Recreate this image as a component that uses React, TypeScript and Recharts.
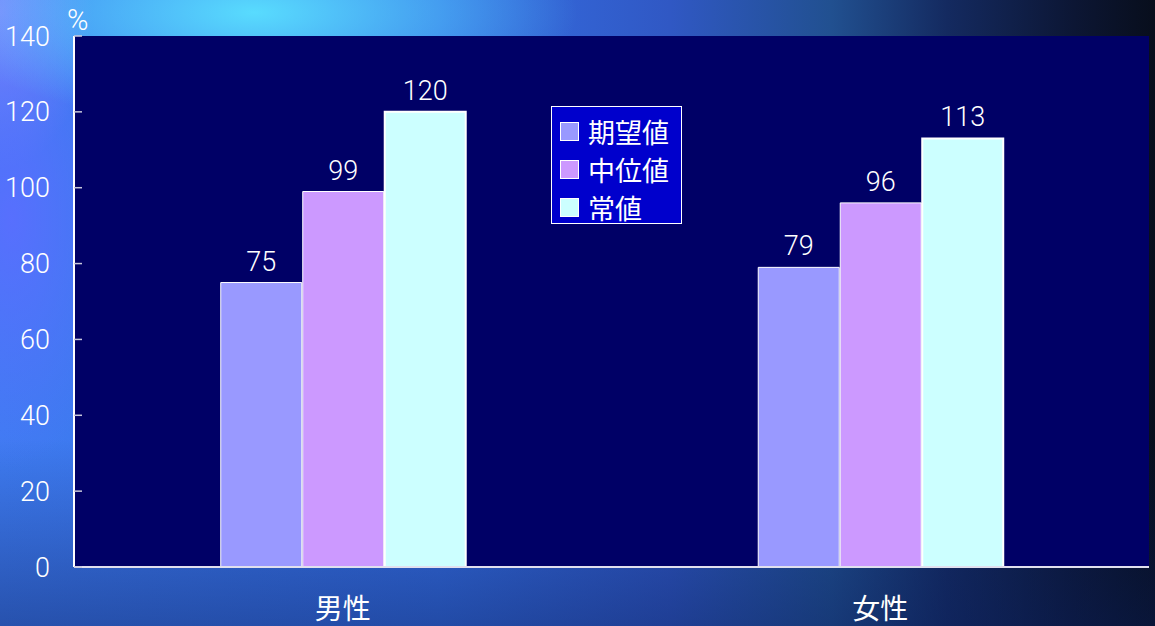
import React from 'react'
import { BarChart, Bar, XAxis, YAxis, CartesianGrid, Legend, LabelList } from 'recharts'

const categories = ['男性', '女性']
const expected = [75, 79]
const median = [99, 96]
const normal = [120, 113]
const yTicks = [0, 20, 40, 60, 80, 100, 120, 140]
const seriesKeys = ['期望値', '中位値', '常値']

const chartData = categories.map((name, i) => ({
    name,
    期望値: expected[i],
    中位値: median[i],
    常値: normal[i],
}))

const font = "Roboto, 'Noto Sans CJK JP', sans-serif"

const seriesColors: Record<string, string> = {
    期望値: '#9999FF',
    中位値: '#CC99FF',
    常値: '#CCFFFF',
}

// legend drawn as the boxed panel in the middle of the plot
function LegendBox({ payload }: any) {
    const items = [...(payload || [])].sort(
        (a: any, b: any) => seriesKeys.indexOf(a.value) - seriesKeys.indexOf(b.value)
    )
    return (
        <div
            style={{
                width: 131,
                height: 118,
                background: '#0000CC',
                border: '1px solid #ffffff',
                boxSizing: 'border-box',
                padding: '5px 0 0 8px',
                fontFamily: font,
            }}
        >
            {items.map((p: any) => (
                <div key={p.value} style={{ display: 'flex', alignItems: 'center', height: 38 }}>
                    <span
                        style={{
                            width: 17,
                            height: 17,
                            background: seriesColors[p.value],
                            border: '1px solid #ffffff',
                            display: 'inline-block',
                            marginRight: 9,
                        }}
                    />
                    <span style={{ color: '#ffffff', fontSize: 27 }}>{p.value}</span>
                </div>
            ))}
        </div>
    )
}

function PercentLabel({ viewBox }: any) {
    return (
        <text x={viewBox.x + viewBox.width - 7} y={viewBox.y - 6} fill="#ffffff" fontSize={29} fontFamily={font} fontWeight={300}>
            %
        </text>
    )
}

export default function App() {
    return (
        <div
            style={{
                position: 'absolute',
                left: 0,
                top: 0,
                width: 1155,
                height: 626,
                background:
                    'radial-gradient(ellipse 28% 18% at 22% 2%, rgba(90,225,255,0.95) 0%, rgba(90,225,255,0) 100%),' +
                    'radial-gradient(ellipse 10% 40% at 1% 35%, rgba(90,110,255,0.9) 0%, rgba(90,110,255,0) 100%),' +
                    'radial-gradient(ellipse 8% 25% at 0% 2%, rgba(150,140,255,0.8) 0%, rgba(150,140,255,0) 100%),' +
                    'linear-gradient(to bottom, rgba(0,0,0,0) 70%, rgba(10,30,90,0.45) 100%),' +
                    'linear-gradient(to right, #3f7cf2 0%, #3670e6 38%, #3058c4 58%, #215090 72%, #142a60 82%, #0c1634 93%, #080e1c 100%)',
                overflow: 'hidden',
            }}
        >
            <BarChart
                width={1155}
                height={626}
                data={chartData}
                margin={{ top: 36, right: 6, left: 0, bottom: 0 }}
                barCategoryGap="27.3%"
                barGap={1}
            >
                <CartesianGrid horizontal={false} vertical={false} fill="#000066" />
                <XAxis
                    xAxisId="bound"
                    type="number"
                    domain={[0, 2]}
                    ticks={[1]}
                    height={0}
                    tick={false}
                    axisLine={false}
                    tickSize={-10}
                    tickLine={{ stroke: '#d8d8e8', strokeWidth: 1.5 }}
                />
                <XAxis
                    dataKey="name"
                    height={59}
                    axisLine={{ stroke: '#e0e0ee', strokeWidth: 2 }}
                    tickLine={false}
                    tickMargin={26}
                    tick={{ fill: '#ffffff', fontSize: 28, fontFamily: font }}
                />
                <XAxis xAxisId="top" orientation="top" height={0} tick={false} tickLine={false} axisLine={{ stroke: '#9a9ab0', strokeWidth: 2 }} />
                <YAxis
                    domain={[0, 140]}
                    ticks={yTicks}
                    width={74}
                    interval={0}
                    axisLine={{ stroke: '#ffffff', strokeWidth: 2 }}
                    tickSize={-8}
                    tickMargin={32}
                    tickLine={{ stroke: '#c8c8dc', strokeWidth: 1.5 }}
                    tick={{ fill: '#ffffff', fontSize: 27, fontFamily: font, fontWeight: 300 }}
                    label={<PercentLabel />}
                />
                <YAxis yAxisId="right" orientation="right" width={0} tick={false} tickLine={false} axisLine={{ stroke: '#9a9ab0', strokeWidth: 2 }} />
                <Legend
                    layout="vertical"
                    align="center"
                    verticalAlign="middle"
                    wrapperStyle={{ left: 551, top: 106, width: 131 }}
                    content={<LegendBox />}
                />
                {seriesKeys.map((key) => (
                    <Bar
                        key={key}
                        dataKey={key}
                        fill={seriesColors[key]}
                        stroke="#ffffff"
                        strokeWidth={key === '常値' ? 2 : 1}
                        isAnimationActive={false}
                    >
                        <LabelList dataKey={key} position="top" offset={12} fill="#ffffff" fontSize={27} fontFamily={font} fontWeight={300} />
                    </Bar>
                ))}
            </BarChart>
        </div>
    )
}
